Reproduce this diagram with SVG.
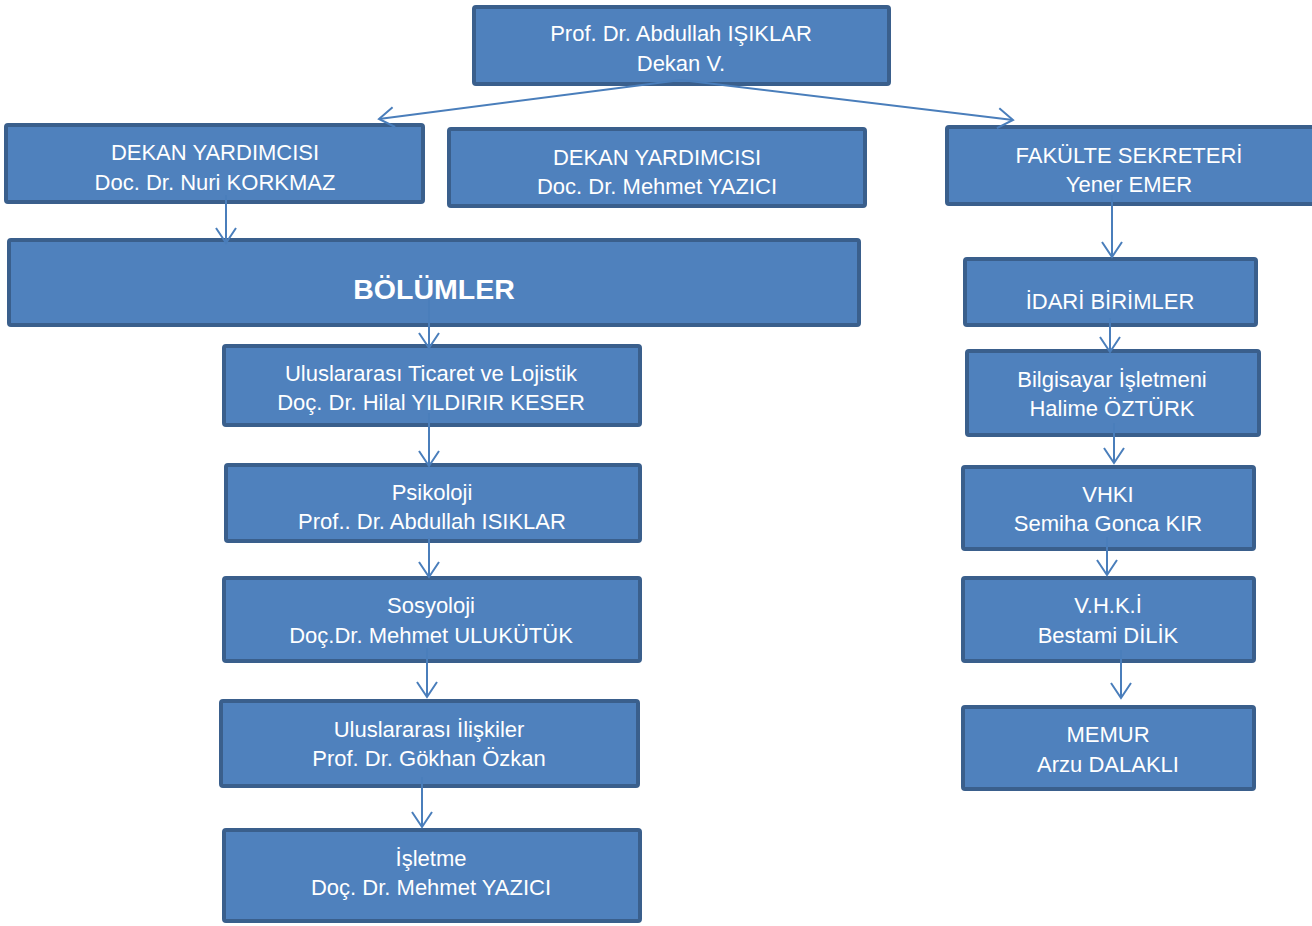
<svg xmlns="http://www.w3.org/2000/svg" width="1312" height="926" viewBox="0 0 1312 926">
<style>
.box{fill:#4F81BD;stroke:#3A5F8C;stroke-width:4}
.t{font-family:"Liberation Sans",Arial,sans-serif;font-size:22px;fill:#FFFFFF;text-anchor:middle}
.b{font-family:"Liberation Sans",Arial,sans-serif;font-size:28.5px;font-weight:bold;fill:#FFFFFF;text-anchor:middle}
.c{fill:none;stroke:#4A7EBB;stroke-width:2;marker-end:url(#arr)}
</style>
<defs>
<marker id="arr" markerUnits="userSpaceOnUse" viewBox="-17 -12 19 24" refX="0" refY="0" markerWidth="19" markerHeight="24" orient="auto">
<path d="M-15,-10 L0,0 L-15,10" fill="none" stroke="#4A7EBB" stroke-width="2"/>
</marker>
</defs>
<rect width="1312" height="926" fill="#FFFFFF"/>
<g id="dekan"><rect class="box" x="474" y="7" width="415" height="77" rx="2"/><text class="t" x="681" y="41">Prof. Dr. Abdullah IŞIKLAR</text><text class="t" x="681" y="71">Dekan V.</text></g>
<g id="dy1"><rect class="box" x="6" y="125" width="417" height="77" rx="2"/><text class="t" x="215" y="160">DEKAN YARDIMCISI</text><text class="t" x="215" y="190">Doc. Dr. Nuri KORKMAZ</text></g>
<g id="dy2"><rect class="box" x="449" y="129" width="416" height="77" rx="2"/><text class="t" x="657" y="165">DEKAN YARDIMCISI</text><text class="t" x="657" y="194">Doc. Dr. Mehmet YAZICI</text></g>
<g id="fs"><rect class="box" x="947" y="127" width="380" height="77" rx="2"/><text class="t" x="1129" y="163">FAKÜLTE SEKRETERİ</text><text class="t" x="1129" y="192">Yener EMER</text></g>
<g id="bolumler"><rect class="box" x="9" y="240" width="850" height="85" rx="2"/><text class="b" x="434" y="299">BÖLÜMLER</text></g>
<g id="utl"><rect class="box" x="224" y="346" width="416" height="79" rx="2"/><text class="t" x="431" y="381">Uluslararası Ticaret ve Lojistik</text><text class="t" x="431" y="410">Doç. Dr. Hilal YILDIRIR KESER</text></g>
<g id="psi"><rect class="box" x="226" y="465" width="414" height="76" rx="2"/><text class="t" x="432" y="500">Psikoloji</text><text class="t" x="432" y="529">Prof.. Dr. Abdullah ISIKLAR</text></g>
<g id="sos"><rect class="box" x="224" y="578" width="416" height="83" rx="2"/><text class="t" x="431" y="613">Sosyoloji</text><text class="t" x="431" y="643">Doç.Dr. Mehmet ULUKÜTÜK</text></g>
<g id="ui"><rect class="box" x="221" y="701" width="417" height="85" rx="2"/><text class="t" x="429" y="737">Uluslararası İlişkiler</text><text class="t" x="429" y="766">Prof. Dr. Gökhan Özkan</text></g>
<g id="isl"><rect class="box" x="224" y="830" width="416" height="91" rx="2"/><text class="t" x="431" y="866">İşletme</text><text class="t" x="431" y="895">Doç. Dr. Mehmet YAZICI</text></g>
<g id="idari"><rect class="box" x="965" y="259" width="291" height="66" rx="2"/><text class="t" x="1110" y="309">İDARİ BİRİMLER</text></g>
<g id="bilg"><rect class="box" x="967" y="351" width="292" height="84" rx="2"/><text class="t" x="1112" y="387">Bilgisayar İşletmeni</text><text class="t" x="1112" y="416">Halime ÖZTÜRK</text></g>
<g id="vhki"><rect class="box" x="963" y="467" width="291" height="82" rx="2"/><text class="t" x="1108" y="502">VHKI</text><text class="t" x="1108" y="531">Semiha Gonca KIR</text></g>
<g id="vhki2"><rect class="box" x="963" y="578" width="291" height="83" rx="2"/><text class="t" x="1108" y="613">V.H.K.İ</text><text class="t" x="1108" y="643">Bestami DİLİK</text></g>
<g id="memur"><rect class="box" x="963" y="707" width="291" height="82" rx="2"/><text class="t" x="1108" y="742">MEMUR</text><text class="t" x="1108" y="772">Arzu DALAKLI</text></g>
<g id="connectors">
<path class="c" d="M681,80 L379,119"/>
<path class="c" d="M681,80 L1013,120"/>
<path class="c" d="M226,195 L226,243"/>
<path class="c" d="M429,300 L429,348"/>
<path class="c" d="M429,413 L429,466"/>
<path class="c" d="M429,538 L429,577"/>
<path class="c" d="M427,648 L427,697"/>
<path class="c" d="M422,777 L422,827"/>
<path class="c" d="M1112,195 L1112,257"/>
<path class="c" d="M1110,318 L1110,352"/>
<path class="c" d="M1114,423 L1114,463"/>
<path class="c" d="M1107,537 L1107,575"/>
<path class="c" d="M1121,650 L1121,698"/>
</g>
</svg>
